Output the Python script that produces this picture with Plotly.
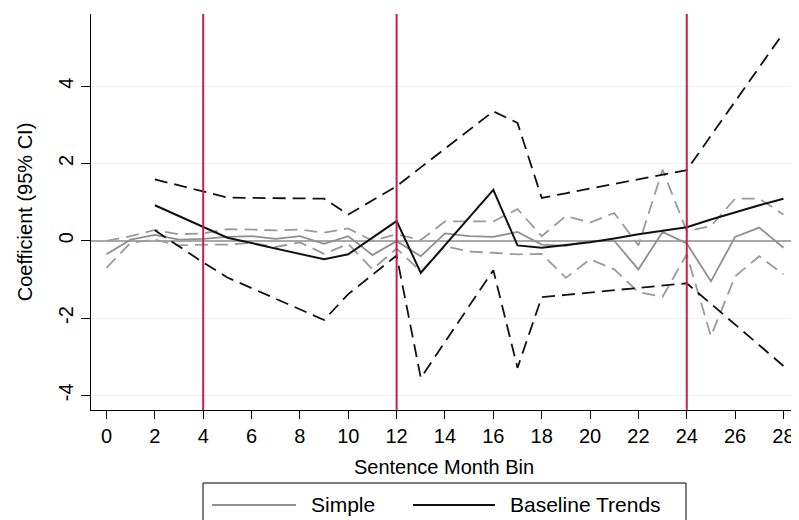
import plotly.graph_objects as go

# ---- data ----
bins_simple = list(range(0, 29))
simple_est = [-0.35, 0.03, 0.15, 0.03, 0.05, 0.10, 0.12, 0.05, 0.12, -0.08,
              0.12, -0.37, -0.01, -0.40, 0.19, 0.12, 0.10, 0.23, -0.10, -0.13,
              0.00, 0.00, -0.74, 0.23, -0.07, -1.05, 0.10, 0.34, -0.18]
simple_lo = [-0.70, -0.05, 0.03, -0.12, -0.10, -0.10, -0.05, -0.16, -0.04, -0.34,
             -0.08, -0.74, -0.20, -0.80, -0.14, -0.28, -0.31, -0.35, -0.34, -0.96,
             -0.48, -0.74, -1.33, -1.45, -0.35, -2.47, -0.92, -0.40, -0.87]
simple_hi = [0.00, 0.12, 0.28, 0.17, 0.19, 0.30, 0.29, 0.27, 0.29, 0.21,
             0.32, 0.00, 0.17, 0.02, 0.50, 0.50, 0.50, 0.82, 0.12, 0.64,
             0.47, 0.72, -0.12, 1.84, 0.25, 0.38, 1.09, 1.09, 0.68]

bins_trend = list(range(2, 29))
trend_est = [0.92, 0.64, 0.36, 0.08, -0.06, -0.20, -0.34, -0.48, -0.35, 0.08,
             0.51, -0.83, -0.12, 0.60, 1.32, -0.12, -0.18, -0.11, -0.04, 0.06,
             0.17, 0.26, 0.35, 0.55, 0.74, 0.92, 1.09]
trend_hi = [1.59, 1.43, 1.28, 1.12, 1.11, 1.10, 1.10, 1.09, 0.68, 1.05,
            1.41, 1.90, 2.38, 2.87, 3.35, 3.05, 1.11, 1.23, 1.35, 1.47,
            1.59, 1.71, 1.83, 2.72, 3.60, 4.49, 5.38]
trend_lo = [0.27, -0.15, -0.56, -0.95, -1.23, -1.50, -1.78, -2.05, -1.38, -0.88,
            -0.38, -3.55, -2.62, -1.68, -0.76, -3.29, -1.46, -1.40, -1.34, -1.27,
            -1.21, -1.16, -1.10, -1.63, -2.17, -2.70, -3.24]

cutoffs = [4, 12, 24]
x_ticks = list(range(0, 29, 2))
y_ticks = [-4, -2, 0, 2, 4]
series_names = ["Simple", "Baseline Trends"]

FONT = "Liberation Sans, Arial, Helvetica, sans-serif"
GREY = "#8f8f8f"
GREY_D = "#9a9a9a"
BLACK = "#111111"
RED = "#c81e4a"
DASH = "13px,7px"

# page body has an 8px default margin; work in figure coordinates
OFF = 8
W, H = 799 - OFF, 520 - OFF

fig = go.Figure()

# Simple (grey)
fig.add_trace(go.Scatter(x=bins_simple, y=simple_hi, mode="lines",
                         line=dict(color=GREY_D, width=1.8, dash=DASH), showlegend=False))
fig.add_trace(go.Scatter(x=bins_simple, y=simple_lo, mode="lines",
                         line=dict(color=GREY_D, width=1.8, dash=DASH), showlegend=False))
fig.add_trace(go.Scatter(x=bins_simple, y=simple_est, mode="lines", name=series_names[0],
                         line=dict(color=GREY, width=1.8), showlegend=False))
# Baseline trends (black)
fig.add_trace(go.Scatter(x=bins_trend, y=trend_hi, mode="lines",
                         line=dict(color=BLACK, width=1.8, dash=DASH), showlegend=False))
fig.add_trace(go.Scatter(x=bins_trend, y=trend_lo, mode="lines",
                         line=dict(color=BLACK, width=1.8, dash=DASH), showlegend=False))
fig.add_trace(go.Scatter(x=bins_trend, y=trend_est, mode="lines", name=series_names[1],
                         line=dict(color=BLACK, width=2), showlegend=False))

shapes = []
for c in cutoffs:
    shapes.append(dict(type="line", xref="x", yref="paper", x0=c, x1=c, y0=0, y1=1,
                       line=dict(color=RED, width=2), layer="above"))

# plot area in window pixels
L, R, T, B = 91, 797, 14, 410
def px(x):
    return (x - L) / (R - L)
def py(y):
    return (B - y) / (B - T)

# custom legend box
shapes.append(dict(type="rect", xref="paper", yref="paper",
                   x0=px(203), x1=px(686), y0=py(483), y1=py(540),
                   line=dict(color="#000000", width=1), fillcolor="white", layer="above"))
shapes.append(dict(type="line", xref="paper", yref="paper",
                   x0=px(212), x1=px(296), y0=py(505), y1=py(505),
                   line=dict(color=GREY, width=1.8)))
shapes.append(dict(type="line", xref="paper", yref="paper",
                   x0=px(413), x1=px(495), y0=py(505), y1=py(505),
                   line=dict(color=BLACK, width=2)))

annotations = [
    dict(text=series_names[0], xref="paper", yref="paper", x=px(309), y=py(504),
         xanchor="left", yanchor="middle", showarrow=False,
         font=dict(family=FONT, size=21, color="#000")),
    dict(text=series_names[1], xref="paper", yref="paper", x=px(508), y=py(504),
         xanchor="left", yanchor="middle", showarrow=False,
         font=dict(family=FONT, size=21, color="#000")),
]

fig.update_layout(
    width=W, height=H,
    margin=dict(l=L - OFF, r=W - (R - OFF), t=T - OFF, b=H - (B - OFF)),
    paper_bgcolor="white", plot_bgcolor="white",
    font=dict(family=FONT, size=20, color="#000"),
    showlegend=False,
    shapes=shapes, annotations=annotations,
    xaxis=dict(range=[-0.64, 28.56], tickvals=x_ticks, ticktext=[str(v) for v in x_ticks],
               showgrid=False, zeroline=False, showline=True, linecolor="#000", linewidth=1,
               ticks="outside", ticklen=8, tickcolor="#000", tickwidth=1,
               tickfont=dict(size=20), automargin=False,
               title=dict(text="Sentence Month Bin", font=dict(size=20), standoff=13)),
    yaxis=dict(range=[-4.38, 5.87], tickvals=y_ticks, ticktext=[str(v) for v in y_ticks],
               tickangle=-90, automargin=False,
               showgrid=True, gridcolor="#eaf2f3", gridwidth=1,
               zeroline=True, zerolinecolor="#a9a9a9", zerolinewidth=2,
               showline=True, linecolor="#000", linewidth=1,
               ticks="outside", ticklen=9, tickcolor="#000", tickwidth=1,
               tickfont=dict(size=20),
               title=dict(text="Coefficient (95% CI)", font=dict(size=20), standoff=17)),
)

fig.write_html("out.html")
